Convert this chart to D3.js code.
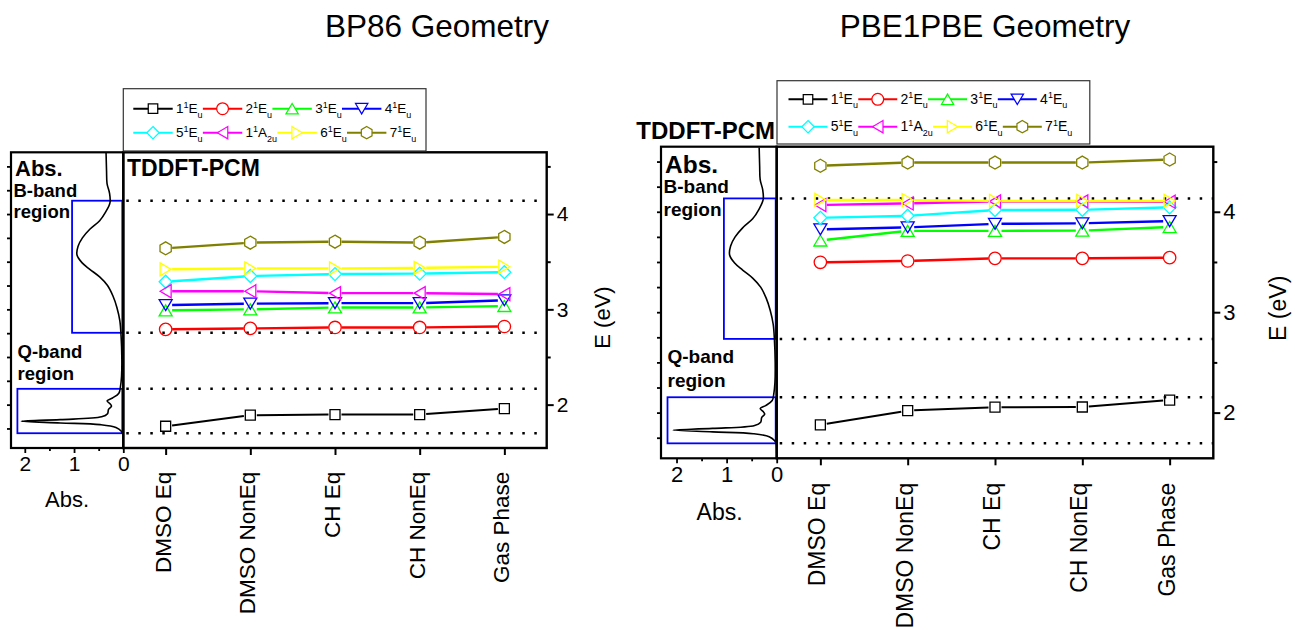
<!DOCTYPE html>
<html>
<head>
<meta charset="utf-8">
<script src="https://cdn.jsdelivr.net/npm/d3@7"></script>
<style>
  body { margin: 0; background: #fff; }
  svg { font-family: "Liberation Sans", Arial, sans-serif; }
</style>
</head>
<body>
<svg id="chart" width="1295" height="630"></svg>
<script>
// ---- data ----
const categories = ["DMSO Eq", "DMSO NonEq", "CH Eq", "CH NonEq", "Gas Phase"];

// [leading number, superscript, symbol, subscript]
const stateLabels = [
  ["1", "1", "E", "u"], ["2", "1", "E", "u"], ["3", "1", "E", "u"], ["4", "1", "E", "u"],
  ["5", "1", "E", "u"], ["1", "1", "A", "2u"], ["6", "1", "E", "u"], ["7", "1", "E", "u"]
];
const stateColors = ["#000000", "#ff0000", "#00ff00", "#0000ff", "#00ffff", "#ff00ff", "#ffff00", "#808000"];
const stateSymbols = ["square", "circle", "triUp", "triDown", "diamond", "triLeft", "triRight", "hexagon"];

// excitation energies (eV), one row per state, one column per category
const bp86Energies = [
  [1.773, 1.889, 1.896, 1.896, 1.959],
  [2.79, 2.80, 2.81, 2.81, 2.82],
  [2.99, 3.00, 3.02, 3.02, 3.035],
  [3.045, 3.06, 3.065, 3.065, 3.095],
  [3.29, 3.35, 3.37, 3.375, 3.39],
  [3.19, 3.19, 3.17, 3.17, 3.16],
  [3.42, 3.43, 3.43, 3.435, 3.447],
  [3.64, 3.70, 3.71, 3.70, 3.76]
];
const pbe1pbeEnergies = [
  [1.878, 2.02, 2.054, 2.056, 2.125],
  [3.497, 3.51, 3.536, 3.536, 3.543],
  [3.714, 3.81, 3.81, 3.812, 3.848],
  [3.825, 3.845, 3.88, 3.885, 3.907],
  [3.94, 3.96, 4.017, 4.02, 4.044],
  [4.067, 4.083, 4.103, 4.103, 4.10],
  [4.118, 4.117, 4.108, 4.108, 4.108],
  [4.458, 4.49, 4.49, 4.49, 4.52]
];

// experimental absorption spectrum: [E (eV), Abs.]
const absSpectrum = [
  [4.64, 0.35], [4.45, 0.34], [4.32, 0.33], [4.22, 0.28], [4.12, 0.27], [4.02, 0.36],
  [3.93, 0.48], [3.84, 0.68], [3.75, 0.83], [3.66, 0.92], [3.57, 0.94], [3.49, 0.84],
  [3.42, 0.68], [3.34, 0.48], [3.25, 0.32], [3.14, 0.21], [3.02, 0.13], [2.88, 0.07],
  [2.72, 0.045], [2.50, 0.03], [2.30, 0.035], [2.18, 0.06], [2.12, 0.09], [2.07, 0.22],
  [2.04, 0.33], [2.01, 0.27], [1.985, 0.24], [1.95, 0.30], [1.905, 0.32], [1.872, 0.44],
  [1.843, 1.28], [1.826, 2.07], [1.808, 1.28], [1.79, 0.47], [1.76, 0.15], [1.72, 0.04],
  [1.69, 0.01], [1.60, 0.0]
];

// dotted guide energies: B-band top, B-band bottom, Q-band top, Q-band bottom
const bp86Guides = [4.14, 2.754, 2.166, 1.70];
const pbe1pbeGuides = [4.133, 2.734, 2.153, 1.694];
// absorbance width of the B-band and Q-band boxes
const bp86BoxAbs = [1.04, 2.15];
const pbe1pbeBoxAbs = [1.054, 2.18];

const eMajorTicks = [2, 3, 4];
const eMinorTicks = [2.5, 3.5, 4.5];
const absMajorTicks = [0, 1, 2];
const absMinorTicks = [0.5, 1.5];

const svg = d3.select("#chart");

function markerPath(type) {
  switch (type) {
    case "square": return "M-5,-5h10v10h-10Z";
    case "circle": return "M6.2,0A6.2,6.2 0 1,1 -6.2,0A6.2,6.2 0 1,1 6.2,0Z";
    case "triUp": return "M0,-5.5L6.5,5.5L-6.5,5.5Z";
    case "triDown": return "M0,5.5L6.5,-5.5L-6.5,-5.5Z";
    case "triLeft": return "M-5.5,0L5.5,-6.5L5.5,6.5Z";
    case "triRight": return "M5.5,0L-5.5,-6.5L-5.5,6.5Z";
    case "diamond": return "M0,-6.5L6.5,0L0,6.5L-6.5,0Z";
    case "hexagon": {
      const pts = d3.range(6).map(k => {
        const a = (-90 + k * 60) * Math.PI / 180;
        return [6.5 * Math.cos(a), 6.5 * Math.sin(a)];
      });
      return "M" + pts.map(p => p.join(",")).join("L") + "Z";
    }
  }
}

function addStateLabel(sel, lab, fs, ss) {
  sel.append("tspan").attr("font-size", fs).text(lab[0]);
  sel.append("tspan").attr("font-size", ss).attr("dy", -5.5).text(lab[1]);
  sel.append("tspan").attr("font-size", fs).attr("dy", 5.5).text(lab[2]);
  sel.append("tspan").attr("font-size", ss).attr("dy", 4.5).text(lab[3]);
}

function drawPanel(cfg, energies, guides, boxAbs) {
  const g = svg.append("g");

  const y = d3.scaleLinear().domain([1.545, 4.648]).range([cfg.yBot, cfg.yTop]);
  const x = d3.scalePoint().domain(categories).range([cfg.divX, cfg.x1]).padding(0.5);
  const xa = d3.scaleLinear().domain([cfg.absMax, 0]).range([cfg.absX0, cfg.divX]);

  // title
  g.append("text")
    .attr("x", cfg.titleX).attr("y", cfg.titleY)
    .attr("text-anchor", "middle").attr("font-size", cfg.titleSize)
    .text(cfg.title);

  // ---- absorption side panel ----
  const clipId = "clip-" + cfg.id;
  g.append("clipPath").attr("id", clipId)
    .append("rect")
    .attr("x", cfg.absX0).attr("y", cfg.yTop)
    .attr("width", cfg.divX - cfg.absX0).attr("height", cfg.yBot - cfg.yTop);

  // band boxes
  [[guides[0], guides[1], boxAbs[0]], [guides[2], guides[3], boxAbs[1]]].forEach(b => {
    g.append("rect")
      .attr("x", xa(b[2])).attr("y", y(b[0]))
      .attr("width", xa(0) - xa(b[2]) - 1).attr("height", y(b[1]) - y(b[0]))
      .attr("fill", "none").attr("stroke", "#0000ff").attr("stroke-width", 1.8);
  });

  const spec = d3.line()
    .x(d => xa(d[1]))
    .y(d => y(d[0]))
    .curve(d3.curveCatmullRom.alpha(0.5));
  g.append("path")
    .datum(absSpectrum)
    .attr("clip-path", `url(#${clipId})`)
    .attr("fill", "none").attr("stroke", "#000").attr("stroke-width", 1.6)
    .attr("d", spec);

  const absLabels = g.append("g").attr("font-weight", "bold");
  absLabels.append("text").attr("x", cfg.absX0 + 4).attr("y", cfg.absTitleY)
    .attr("font-size", cfg.absTitleSize).text("Abs.");
  absLabels.append("text").attr("x", cfg.absX0 + 2.5).attr("y", cfg.bLabelY)
    .attr("font-size", cfg.bandSize).text("B-band");
  absLabels.append("text").attr("x", cfg.absX0 + 2.5).attr("y", cfg.bLabelY + cfg.bandGap)
    .attr("font-size", cfg.bandSize).text("region");
  absLabels.append("text").attr("x", cfg.absX0 + 6.5).attr("y", cfg.qLabelY)
    .attr("font-size", cfg.bandSize).text("Q-band");
  absLabels.append("text").attr("x", cfg.absX0 + 6.5).attr("y", cfg.qLabelY + cfg.bandGap)
    .attr("font-size", cfg.bandSize).text("region");

  // left edge ticks every 0.25 eV
  const leftTicks = g.append("g")
    .attr("transform", `translate(${cfg.absX0},0)`)
    .call(d3.axisLeft(y).tickValues(d3.range(7, 19).map(k => k * 0.25)).tickSize(4).tickFormat(""));
  leftTicks.select(".domain").remove();
  leftTicks.selectAll("line").attr("stroke-width", 1.8);

  // absorbance axis
  const absAxis = g.append("g")
    .attr("transform", `translate(0,${cfg.yBot})`)
    .call(d3.axisBottom(xa).tickValues(absMajorTicks).tickSize(5).tickFormat(d3.format("d")));
  absAxis.select(".domain").remove();
  absAxis.selectAll("line").attr("stroke-width", 1.8);
  absAxis.selectAll("text").attr("font-size", cfg.tickSize).attr("font-family", null);
  const absMinor = g.append("g")
    .attr("transform", `translate(0,${cfg.yBot})`)
    .call(d3.axisBottom(xa).tickValues(absMinorTicks).tickSize(3).tickFormat(""));
  absMinor.select(".domain").remove();
  absMinor.selectAll("line").attr("stroke-width", 1.8);

  g.append("text")
    .attr("x", xa(1) - 7).attr("y", cfg.absAxisTitleY)
    .attr("text-anchor", "middle").attr("font-size", cfg.axisTitleSize)
    .text("Abs.");

  g.append("rect")
    .attr("x", cfg.absX0).attr("y", cfg.yTop)
    .attr("width", cfg.divX - cfg.absX0).attr("height", cfg.yBot - cfg.yTop)
    .attr("fill", "none").attr("stroke", "#000").attr("stroke-width", 2.2);

  // ---- main panel ----
  g.selectAll(".guide")
    .data(guides)
    .join("line")
    .attr("class", "guide")
    .attr("x1", cfg.divX + 3).attr("x2", cfg.x1)
    .attr("y1", d => y(d)).attr("y2", d => y(d))
    .attr("stroke", "#000").attr("stroke-width", 2.5)
    .attr("stroke-dasharray", "2.5 9.5");

  g.append("text")
    .attr("x", cfg.pcmX).attr("y", cfg.pcmY)
    .attr("text-anchor", cfg.pcmAnchor)
    .attr("font-size", cfg.pcmSize).attr("font-weight", "bold")
    .text("TDDFT-PCM");

  const gap = 6.5;
  energies.forEach((row, si) => {
    const pts = row.map((v, i) => [x(categories[i]), y(v)]);
    const segs = d3.pairs(pts).map(([p, q]) => {
      const dx = q[0] - p[0], dy = q[1] - p[1];
      const len = Math.hypot(dx, dy);
      const ux = dx / len, uy = dy / len;
      return [[p[0] + ux * gap, p[1] + uy * gap], [q[0] - ux * gap, q[1] - uy * gap]];
    });
    g.append("g").selectAll("path")
      .data(segs)
      .join("path")
      .attr("d", d => d3.line()(d))
      .attr("stroke", stateColors[si])
      .attr("stroke-width", si === 0 ? 2 : 2.4)
      .attr("fill", "none");
    g.append("g").selectAll("path")
      .data(pts)
      .join("path")
      .attr("transform", d => `translate(${d[0]},${d[1]})`)
      .attr("d", markerPath(stateSymbols[si]))
      .attr("fill", "none")
      .attr("stroke", stateColors[si])
      .attr("stroke-width", 1.3);
  });

  // energy axis on the right
  const eAxis = g.append("g")
    .attr("transform", `translate(${cfg.x1},0)`)
    .call(d3.axisRight(y).tickValues(eMajorTicks).tickSize(7).tickFormat(d3.format("d")));
  eAxis.select(".domain").remove();
  eAxis.selectAll("line").attr("stroke-width", 2);
  eAxis.selectAll("text").attr("font-size", cfg.tickSize).attr("font-family", null);
  const eMinor = g.append("g")
    .attr("transform", `translate(${cfg.x1},0)`)
    .call(d3.axisRight(y).tickValues(eMinorTicks).tickSize(4).tickFormat(""));
  eMinor.select(".domain").remove();
  eMinor.selectAll("line").attr("stroke-width", 2);

  g.append("text")
    .attr("transform", `translate(${cfg.eTitleX},${cfg.eTitleY}) rotate(-90)`)
    .attr("text-anchor", "middle").attr("font-size", cfg.axisTitleSize)
    .text("E (eV)");

  // category axis
  const cAxis = g.append("g")
    .attr("transform", `translate(0,${cfg.yBot})`)
    .call(d3.axisBottom(x).tickSize(7).tickFormat(""));
  cAxis.select(".domain").remove();
  cAxis.selectAll("line").attr("stroke-width", 2);

  g.selectAll(".cat")
    .data(categories)
    .join("text")
    .attr("class", "cat")
    .attr("transform", d => `translate(${x(d) + 5},${cfg.yBot + cfg.catGap}) rotate(-90)`)
    .attr("text-anchor", "end")
    .attr("font-size", cfg.catSize)
    .text(d => d);

  g.append("rect")
    .attr("x", cfg.divX).attr("y", cfg.yTop)
    .attr("width", cfg.x1 - cfg.divX).attr("height", cfg.yBot - cfg.yTop)
    .attr("fill", "none").attr("stroke", "#000").attr("stroke-width", 2.4);

  // ---- legend ----
  const leg = g.append("g");
  leg.append("rect")
    .attr("x", cfg.leg[0]).attr("y", cfg.leg[1])
    .attr("width", cfg.leg[2] - cfg.leg[0]).attr("height", cfg.leg[3] - cfg.leg[1])
    .attr("fill", "#fff").attr("stroke", "#333").attr("stroke-width", 1.2);
  [[0, 1, 2, 3], [4, 5, 6, 7]].forEach((row, ri) => {
    let cx = cfg.leg[0] + cfg.legPad;
    const ry = cfg.legRows[ri];
    row.forEach(si => {
      leg.append("line")
        .attr("x1", cx).attr("x2", cx + cfg.legLine)
        .attr("y1", ry).attr("y2", ry)
        .attr("stroke", stateColors[si]).attr("stroke-width", 2);
      leg.append("path")
        .attr("transform", `translate(${cx + cfg.legLine / 2},${ry}) scale(0.95)`)
        .attr("d", markerPath(stateSymbols[si]))
        .attr("fill", "#fff")
        .attr("stroke", stateColors[si]).attr("stroke-width", 1.3);
      const t = leg.append("text")
        .attr("x", cx + cfg.legLine + 3.3).attr("y", ry + 4.6);
      addStateLabel(t, stateLabels[si], cfg.legFont, 9);
      cx += cfg.legLine + 3.3 + t.node().getComputedTextLength() + 0.3;
    });
  });
}

drawPanel({
  id: "bp86", title: "BP86 Geometry", titleX: 437, titleY: 37, titleSize: 31.5,
  absX0: 11, divX: 123.3, x1: 546.7, yTop: 152.3, yBot: 448, absMax: 2.28,
  absTitleY: 176, absTitleSize: 22, bLabelY: 196.7, qLabelY: 358.3, bandGap: 21.6, bandSize: 18.5,
  tickSize: 21, axisTitleSize: 22, absAxisTitleY: 506.7,
  pcmX: 127, pcmY: 176, pcmAnchor: "start", pcmSize: 23,
  eTitleX: 610, eTitleY: 317.5, catGap: 23.7, catSize: 22.5,
  leg: [123.3, 88.7, 426, 151], legPad: 10, legLine: 39.4, legRows: [108.7, 132.7], legFont: 13.5
}, bp86Energies, bp86Guides, bp86BoxAbs);

drawPanel({
  id: "pbe", title: "PBE1PBE Geometry", titleX: 985, titleY: 37, titleSize: 31.5,
  absX0: 661, divX: 776.7, x1: 1213.3, yTop: 146.7, yBot: 458.3, absMax: 2.31,
  absTitleY: 173, absTitleSize: 24.5, bLabelY: 192.7, qLabelY: 363.3, bandGap: 23.4, bandSize: 19,
  tickSize: 22, axisTitleSize: 23, absAxisTitleY: 520,
  pcmX: 775, pcmY: 138.5, pcmAnchor: "end", pcmSize: 24,
  eTitleX: 1286, eTitleY: 308.3, catGap: 24.5, catSize: 23,
  leg: [777, 80.7, 1089.8, 144], legPad: 11.5, legLine: 39, legRows: [99.3, 126.7], legFont: 14
}, pbe1pbeEnergies, pbe1pbeGuides, pbe1pbeBoxAbs);
</script>
</body>
</html>
